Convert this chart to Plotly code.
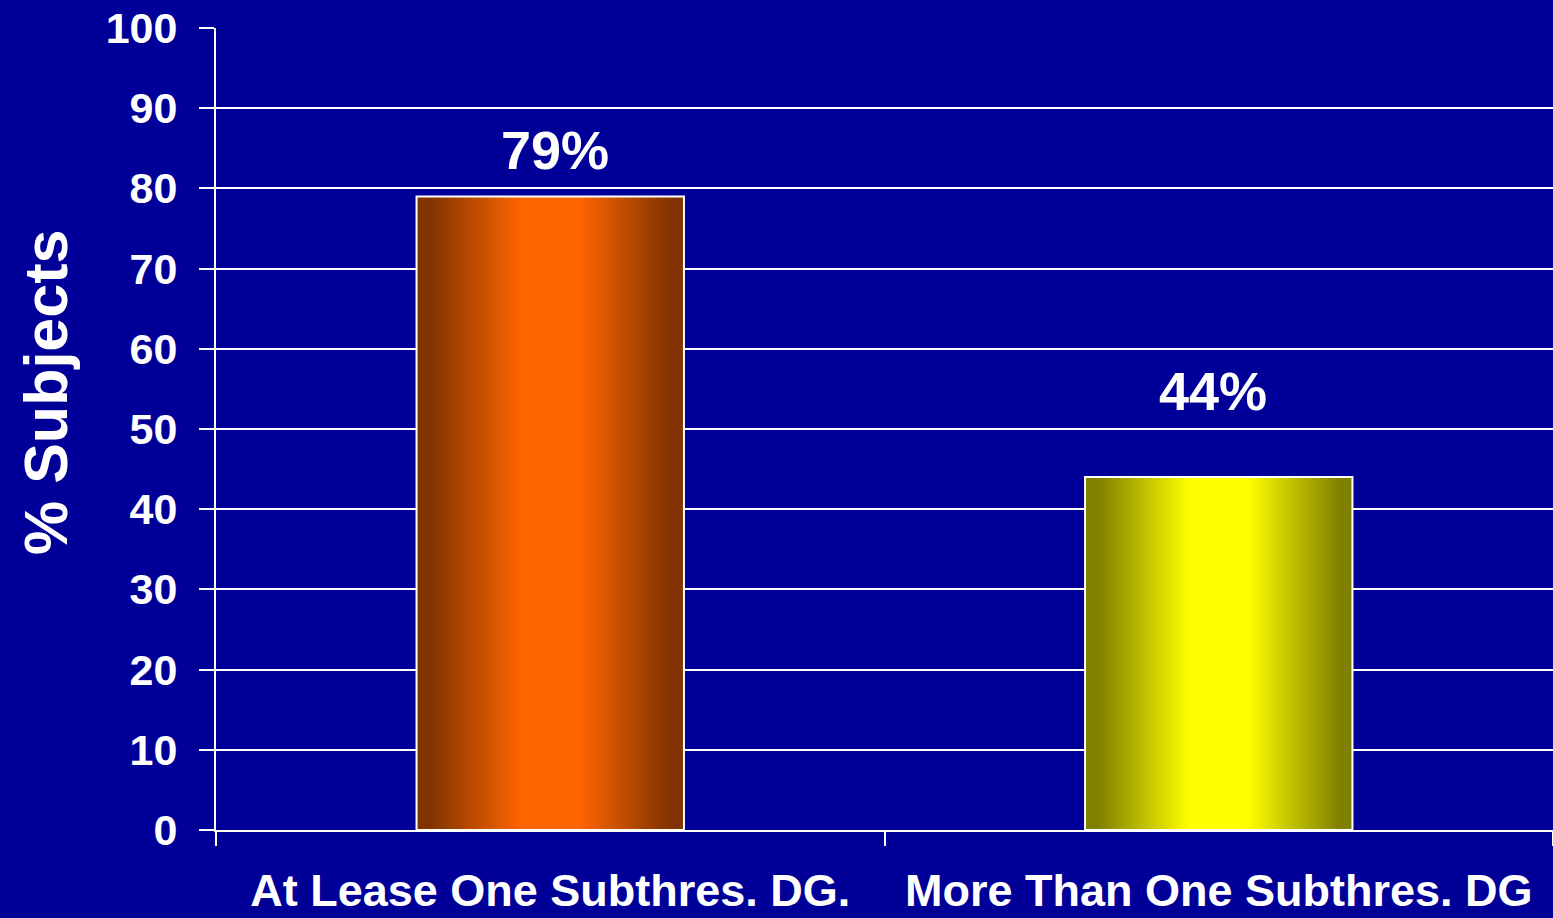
import plotly.graph_objects as go

# Data
categories = ["At Lease One Subthres. DG.", "More Than One Subthres. DG"]
values = [79, 44]
labels = ["79%", "44%"]

# Colours: bar edge shade and centre shade for each category
edge_colors = [(128, 51, 0), (128, 128, 0)]
center_colors = [(255, 102, 0), (255, 255, 0)]

BG = "#000099"
FONT = "Liberation Sans"
BAR_WIDTH = 0.4
LAYERS = 70


def mix(a, b, t):
    return "rgb({},{},{})".format(*[round(a[i] + (b[i] - a[i]) * t) for i in range(3)])


fig = go.Figure()

# Horizontal edge-to-centre gradient built from nested, overlaid bars:
# a short dark band at the edges, a ramp, then a bright band in the middle
for k in range(LAYERS):
    u = k / LAYERS
    t = min(max((u - 0.09) / 0.69, 0.0), 1.0)
    w = BAR_WIDTH * (1 - u)
    fig.add_trace(go.Bar(
        x=categories, y=values, width=[w] * len(values),
        marker=dict(color=[mix(e, c, t) for e, c in zip(edge_colors, center_colors)],
                    line=dict(width=0)),
        hoverinfo="skip", showlegend=False,
    ))

# White outline on top of the gradient
fig.add_trace(go.Bar(
    x=categories, y=values, width=[BAR_WIDTH] * len(values),
    marker=dict(color="rgba(0,0,0,0)", line=dict(color="white", width=2)),
    hoverinfo="skip", showlegend=False,
))

# Value labels above the bars
label_shift = [(5, 14), (-6, 54)]
for cat, v, txt, (dx, dy) in zip(categories, values, labels, label_shift):
    fig.add_annotation(x=cat, y=v, text=txt, showarrow=False,
                       xanchor="center", yanchor="bottom", xshift=dx, yshift=dy,
                       font=dict(family=FONT, size=54, color="white", weight="bold"))

# Rotated y-axis title
fig.add_annotation(xref="paper", yref="paper", x=0, y=0.5, xshift=-170, yshift=36,
                   text="% Subjects", textangle=-90, showarrow=False,
                   xanchor="center", yanchor="middle",
                   font=dict(family=FONT, size=61, color="white", weight="bold"))

fig.update_layout(
    width=1553, height=918,
    barmode="overlay",
    paper_bgcolor=BG, plot_bgcolor=BG,
    margin=dict(l=216, r=0, t=28, b=88, autoexpand=False),
    xaxis=dict(type="category", tickson="boundaries", ticks="outside", ticklen=14,
               tickwidth=2, tickcolor="white", showline=True, linecolor="white",
               linewidth=2, showgrid=False, automargin=False,
               tickfont=dict(family=FONT, size=45, color="white", weight="bold"),
               ticklabelstandoff=20),
    yaxis=dict(range=[0, 100], dtick=10, ticks="outside", ticklen=15, tickwidth=2,
               tickcolor="white", showline=True, linecolor="white", linewidth=2,
               showgrid=True, gridcolor="white", gridwidth=2, zeroline=False,
               automargin=False,
               tickfont=dict(family=FONT, size=43, color="white", weight="bold"),
               ticklabelstandoff=13),
)

fig.write_html("out.html")
